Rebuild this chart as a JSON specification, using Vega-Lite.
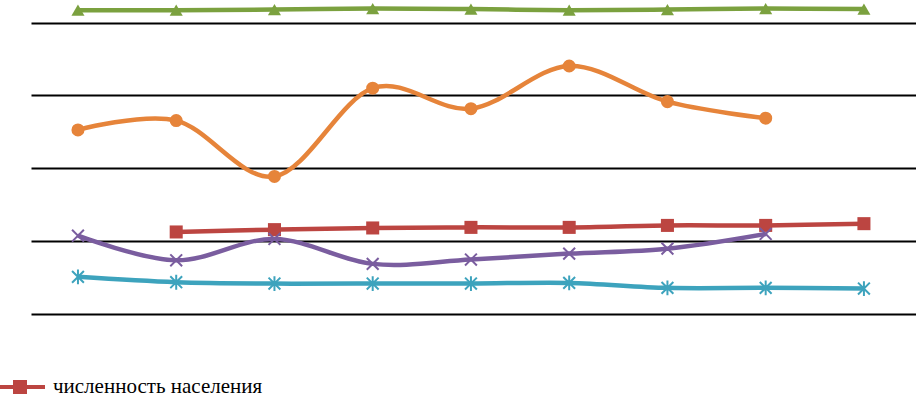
{
  "$schema": "https://vega.github.io/schema/vega-lite/v6.json",
  "width": 885,
  "height": 314,
  "autosize": {"type": "none"},
  "padding": {"left": 31, "top": 0, "right": 0, "bottom": 84},
  "background": "white",
  "config": {"view": {"stroke": null}},
  "data": {
    "values": [
      {"t": 1, "s": "ряд 1", "v": 4.171},
      {"t": 2, "s": "ряд 1", "v": 4.171},
      {"t": 3, "s": "ряд 1", "v": 4.178},
      {"t": 4, "s": "ряд 1", "v": 4.192},
      {"t": 5, "s": "ряд 1", "v": 4.185},
      {"t": 6, "s": "ряд 1", "v": 4.171},
      {"t": 7, "s": "ряд 1", "v": 4.178},
      {"t": 8, "s": "ряд 1", "v": 4.192},
      {"t": 9, "s": "ряд 1", "v": 4.185},
      {"t": 1, "s": "ряд 2", "v": 2.527},
      {"t": 2, "s": "ряд 2", "v": 2.655},
      {"t": 3, "s": "ряд 2", "v": 1.888},
      {"t": 4, "s": "ряд 2", "v": 3.099},
      {"t": 5, "s": "ряд 2", "v": 2.818},
      {"t": 6, "s": "ряд 2", "v": 3.404},
      {"t": 7, "s": "ряд 2", "v": 2.915},
      {"t": 8, "s": "ряд 2", "v": 2.688},
      {"t": 2, "s": "численность населения", "v": 1.126},
      {"t": 3, "s": "численность населения", "v": 1.158},
      {"t": 4, "s": "численность населения", "v": 1.181},
      {"t": 5, "s": "численность населения", "v": 1.189},
      {"t": 6, "s": "численность населения", "v": 1.189},
      {"t": 7, "s": "численность населения", "v": 1.216},
      {"t": 8, "s": "численность населения", "v": 1.216},
      {"t": 9, "s": "численность населения", "v": 1.240},
      {"t": 1, "s": "ряд 4", "v": 1.075},
      {"t": 2, "s": "ряд 4", "v": 0.737},
      {"t": 3, "s": "ряд 4", "v": 1.030},
      {"t": 4, "s": "ряд 4", "v": 0.688},
      {"t": 5, "s": "ряд 4", "v": 0.747},
      {"t": 6, "s": "ряд 4", "v": 0.829},
      {"t": 7, "s": "ряд 4", "v": 0.897},
      {"t": 8, "s": "ряд 4", "v": 1.099},
      {"t": 1, "s": "ряд 5", "v": 0.510},
      {"t": 2, "s": "ряд 5", "v": 0.436},
      {"t": 3, "s": "ряд 5", "v": 0.418},
      {"t": 4, "s": "ряд 5", "v": 0.418},
      {"t": 5, "s": "ряд 5", "v": 0.418},
      {"t": 6, "s": "ряд 5", "v": 0.427},
      {"t": 7, "s": "ряд 5", "v": 0.359},
      {"t": 8, "s": "ряд 5", "v": 0.359},
      {"t": 9, "s": "ряд 5", "v": 0.349}
    ]
  },
  "encoding": {
    "x": {"field": "t", "type": "quantitative", "scale": {"domain": [0.522, 9.53], "nice": false, "zero": false}, "axis": null},
    "y": {"field": "v", "type": "quantitative", "scale": {"domain": [0, 4.31], "nice": false, "zero": false},
      "axis": {"values": [0, 1, 2, 3, 4], "grid": true, "gridColor": "#000000", "gridWidth": 2, "gridOpacity": 1, "labels": false, "ticks": false, "domain": false, "title": null}},
    "color": {"field": "s", "type": "nominal",
      "scale": {"domain": ["ряд 1", "ряд 2", "численность населения", "ряд 4", "ряд 5"], "range": ["#7BA13F", "#E6843A", "#BC4541", "#7A5D9F", "#3DA3BD"]},
      "legend": {"values": ["численность населения"], "orient": "none", "legendX": -36, "legendY": 362, "title": null,
        "symbolType": "M-1,-0.08H1V0.08H-1Z M-0.28,-0.28H0.28V0.28H-0.28Z", "symbolSize": 2500, "symbolStrokeWidth": 0, "symbolOpacity": 1,
        "symbolFillColor": "#BC4541", "labelLimit": 0,
        "labelFont": "'Liberation Serif', 'Times New Roman', serif", "labelFontSize": 21, "labelColor": "#000000", "labelOffset": 8, "padding": 0,
        "encode": {"symbols": {"update": {
          "shape": {"value": "M-1,-0.08H1V0.08H-1Z M-0.28,-0.28H0.28V0.28H-0.28Z"},
          "size": {"value": 2500},
          "fill": {"value": "#BC4541"},
          "strokeWidth": {"value": 0},
          "opacity": {"value": 1}}}}}}
  },
  "layer": [
    {
      "mark": {"type": "line", "interpolate": "cardinal", "strokeWidth": 4.5}
    },
    {
      "transform": [{"filter": {"field": "s", "equal": "ряд 1"}}],
      "mark": {"type": "point", "filled": true, "opacity": 1, "size": 170, "shape": "triangle-up"}
    },
    {
      "transform": [{"filter": {"field": "s", "equal": "ряд 2"}}],
      "mark": {"type": "point", "filled": true, "opacity": 1, "size": 170, "shape": "circle"}
    },
    {
      "transform": [{"filter": {"field": "s", "equal": "численность населения"}}],
      "mark": {"type": "point", "filled": true, "opacity": 1, "size": 170, "shape": "square"}
    },
    {
      "transform": [{"filter": {"field": "s", "equal": "ряд 4"}}],
      "mark": {"type": "point", "filled": false, "opacity": 1, "size": 140, "strokeWidth": 2, "shape": "M-1,-1L1,1M1,-1L-1,1"}
    },
    {
      "transform": [{"filter": {"field": "s", "equal": "ряд 5"}}],
      "mark": {"type": "point", "filled": false, "opacity": 1, "size": 140, "strokeWidth": 2, "shape": "M-1,-1L1,1M1,-1L-1,1M0,-1.25L0,1.25"}
    }
  ]
}
